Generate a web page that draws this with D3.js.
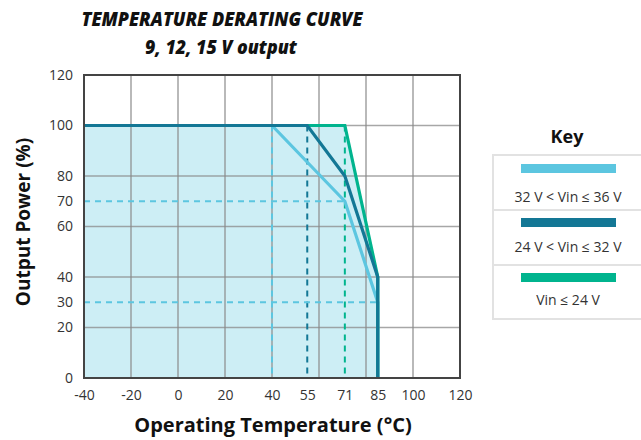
<!DOCTYPE html>
<html><head><meta charset="utf-8">
<script src="https://cdn.jsdelivr.net/npm/d3@7"></script>
<style>body{margin:0;background:#fff;} text{font-family:"Open Sans",sans-serif;}</style>
</head><body>
<svg id="c" width="641" height="440"></svg>
<script>
const xTicks = [-40,-20,0,20,40,55,71,85,100,120];
const xGrid = [-20,0,20,40,60,80,100];
const yTicks = [0,20,30,40,60,70,80,100,120];
const yGrid = [20,40,60,80,100];
const seriesNames = ["32 V < Vin \u2264 36 V","24 V < Vin \u2264 32 V","Vin \u2264 24 V"];
const seriesColors = ["#5cc6e0","#137795","#00b48e"];
const lightBlue = [[-40,100],[40,100],[71,70],[85,30],[85,0]];
const darkBlue = [[-40,100],[55,100],[71,80],[85,40],[85,0]];
const green = [[-40,100],[71,100],[85,40],[85,0]];
const envelope = [[-40,0],[-40,100],[71,100],[85,40],[85,0]];
const dashV = [[40,100,0],[55,100,1],[71,100,2]];
const dashH = [[70,71],[30,85]];

const svg = d3.select("#c");
const x = d3.scaleLinear().domain([-40,120]).range([84,460]);
const y = d3.scaleLinear().domain([0,120]).range([378,75]);
const line = d3.line().x(d=>x(d[0])).y(d=>y(d[1]));

// fill
svg.append("path").attr("d", line(envelope)+"Z").attr("fill","#cdeef5");

// grid
const g = svg.append("g").attr("stroke","#8a8a8a").attr("stroke-opacity",0.75).attr("stroke-width",1.6);
xGrid.forEach(v=>g.append("line").attr("x1",x(v)).attr("x2",x(v)).attr("y1",y(0)).attr("y2",y(120)));
yGrid.forEach(v=>g.append("line").attr("y1",y(v)).attr("y2",y(v)).attr("x1",x(-40)).attr("x2",x(120)));

// dashed
dashV.forEach(d=>svg.append("line").attr("x1",x(d[0])).attr("x2",x(d[0])).attr("y1",y(d[1])).attr("y2",y(0))
  .attr("stroke",seriesColors[d[2]]).attr("stroke-width",2).attr("stroke-dasharray","6,5"));
dashH.forEach(d=>svg.append("line").attr("x1",x(-40)).attr("x2",x(d[1])).attr("y1",y(d[0])).attr("y2",y(d[0]))
  .attr("stroke",seriesColors[0]).attr("stroke-width",2).attr("stroke-dasharray","6,5"));

// series
[[lightBlue,0],[green,2],[darkBlue,1]].forEach(([data,i])=>{
  svg.append("path").attr("d",line(data)).attr("fill","none").attr("stroke",seriesColors[i])
    .attr("stroke-width",3.2).attr("stroke-linejoin","miter");
});

// frame
svg.append("rect").attr("x",x(-40)).attr("y",y(120)).attr("width",x(120)-x(-40)).attr("height",y(0)-y(120))
  .attr("fill","none").attr("stroke","#444").attr("stroke-width",2);

// axes
const xa = svg.append("g").attr("transform",`translate(0,${y(0)})`)
  .call(d3.axisBottom(x).tickValues(xTicks).tickFormat(d=>String(d)).tickSize(0).tickPadding(12));
const ya = svg.append("g").attr("transform",`translate(${x(-40)},0)`)
  .call(d3.axisLeft(y).tickValues(yTicks).tickFormat(d=>String(d)).tickSize(0).tickPadding(11));
[xa,ya].forEach(a=>{a.select(".domain").remove(); a.selectAll("text").attr("font-size",14).attr("fill","#333").attr("font-family","Open Sans");});

// titles
svg.append("text").attr("x",222).attr("y",26).attr("text-anchor","middle").attr("font-size",20)
  .attr("font-weight",800).attr("font-style","italic").attr("fill","#111")
  .attr("textLength",281).attr("lengthAdjust","spacingAndGlyphs").text("TEMPERATURE DERATING CURVE");
svg.append("text").attr("x",221).attr("y",54).attr("text-anchor","middle").attr("font-size",20)
  .attr("font-weight",800).attr("font-style","italic").attr("fill","#111")
  .attr("textLength",152).attr("lengthAdjust","spacingAndGlyphs").text("9, 12, 15 V output");

svg.append("text").attr("x",273).attr("y",432).attr("text-anchor","middle").attr("font-size",20)
  .attr("font-weight",700).attr("fill","#111").text("Operating Temperature (\u00b0C)");
svg.append("text").attr("transform","translate(30,222) rotate(-90)").attr("text-anchor","middle").attr("font-size",19)
  .attr("font-weight",700).attr("fill","#111").text("Output Power (%)");

// legend
svg.append("text").attr("x",567).attr("y",143).attr("text-anchor","middle").attr("font-size",18)
  .attr("font-weight",700).attr("fill","#111").text("Key");
svg.append("rect").attr("x",493).attr("y",155).attr("width",160).attr("height",164)
  .attr("fill","#fff").attr("stroke","#e2e2e2").attr("stroke-width",2);
[210,265].forEach(v=>svg.append("line").attr("x1",493).attr("x2",641).attr("y1",v).attr("y2",v).attr("stroke","#e2e2e2").attr("stroke-width",2));
const swY=[164,218,273], txY=[202,252,305];
seriesNames.forEach((n,i)=>{
  svg.append("rect").attr("x",521).attr("y",swY[i]).attr("width",95).attr("height",9).attr("fill",seriesColors[i]);
  svg.append("text").attr("x",568).attr("y",txY[i]).attr("text-anchor","middle").attr("font-size",14)
    .attr("fill","#333").text(n);
});
</script>
</body></html>
